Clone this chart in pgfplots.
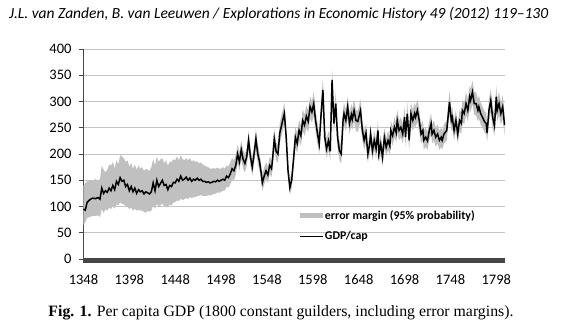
\documentclass[border=0pt]{standalone}
\usepackage{pgfplots}
\pgfplotsset{compat=1.18}
\usepackage{pgfplotstable}
\usepgfplotslibrary{fillbetween}
\usepackage{fontspec}
\setmainfont{Liberation Serif}
\newfontfamily\carlito{Carlito}
\definecolor{bandgray}{RGB}{192,192,192}
\definecolor{gridgray}{RGB}{195,195,195}
\definecolor{axisgray}{RGB}{70,70,70}

\pgfplotstableread{
year gdp lo hi
1348 95 65 140
1350 93 70 145
1352 108 78 148
1355 113 80 150
1358 116 82 150
1361 115 82 152
1364 117 83 150
1366 114 80 152
1368 135 95 178
1370 125 88 170
1372 130 95 165
1374 127 92 170
1376 135 98 180
1378 130 95 178
1380 140 100 185
1382 132 96 172
1384 148 104 188
1386 142 102 180
1388 155 108 198
1390 148 105 195
1392 150 104 192
1394 138 100 185
1396 142 100 188
1398 130 95 176
1400 138 98 182
1402 128 92 172
1404 135 96 180
1406 125 92 170
1408 132 94 178
1410 128 92 172
1412 130 92 175
1414 124 90 168
1416 128 88 172
1418 126 92 170
1420 124 90 168
1422 128 92 175
1424 145 102 190
1426 130 96 178
1428 150 105 195
1430 138 100 185
1432 144 102 190
1434 150 106 192
1436 140 100 182
1438 142 102 188
1440 132 98 178
1442 140 104 185
1444 138 102 185
1446 146 108 190
1448 145 108 188
1450 152 112 195
1452 148 110 188
1454 158 115 197
1456 150 112 190
1458 152 114 188
1460 156 116 192
1462 150 114 188
1464 154 118 192
1466 148 116 186
1468 152 118 188
1470 150 118 185
1472 154 120 186
1474 150 120 182
1476 152 122 184
1478 148 120 180
1480 148 120 178
1482 146 120 176
1484 147 122 175
1486 145 121 172
1488 146 122 172
1490 148 124 173
1492 147 124 172
1494 150 127 174
1496 148 126 172
1498 150 128 172
1500 152 130 175
1502 150 130 172
1504 158 138 178
1506 155 136 176
1508 162 142 184
1510 172 152 192
1512 168 150 188
1514 178 160 198
1516 200 182 218
1518 185 168 203
1520 208 190 226
1522 190 172 208
1524 182 165 200
1526 195 178 212
1528 226 208 244
1530 195 178 212
1532 175 158 192
1534 200 182 218
1536 229 210 248
1538 200 182 218
1540 185 168 202
1542 160 145 176
1543 145 130 162
1545 158 142 174
1547 168 152 185
1549 160 145 176
1551 178 162 195
1553 172 156 188
1554 187 170 204
1556 229 210 248
1558 205 188 222
1560 200 183 218
1562 240 220 260
1564 255 235 275
1566 270 250 290
1567 277 256 298
1569 232 212 252
1571 168 152 186
1573 136 122 152
1575 150 135 166
1577 190 172 208
1579 232 212 252
1581 220 202 240
1583 245 225 265
1585 235 215 255
1587 264 244 285
1589 255 235 275
1591 272 250 292
1593 262 242 282
1595 290 268 310
1597 280 260 300
1599 296 274 318
1601 264 244 285
1603 240 220 260
1605 219 200 238
1607 275 254 296
1609 322 300 345
1611 232 212 252
1613 210 192 228
1615 225 206 244
1617 205 188 222
1619 341 318 362
1621 258 238 278
1623 296 274 318
1625 232 212 252
1627 206 188 224
1629 200 182 218
1631 265 245 285
1632 277 256 298
1634 264 244 284
1636 290 268 310
1638 258 238 278
1640 275 254 296
1641 266 246 286
1643 283 262 304
1645 264 244 284
1647 262 242 282
1650 283 262 304
1652 245 226 264
1654 226 208 244
1656 240 220 258
1658 200 184 216
1660 219 200 236
1661 238 218 256
1663 206 188 222
1665 226 208 244
1667 210 192 226
1669 245 226 264
1670 200 184 218
1672 219 200 236
1674 194 176 210
1676 232 212 250
1678 213 196 230
1680 226 208 244
1682 215 198 232
1683 245 226 264
1685 235 216 252
1687 251 232 270
1689 240 222 258
1690 264 244 284
1692 245 226 264
1694 251 232 270
1696 238 220 256
1698 270 250 290
1699 232 214 250
1701 277 256 298
1703 226 208 244
1705 277 256 298
1707 264 244 284
1709 277 256 298
1710 270 250 290
1712 283 262 304
1714 264 244 284
1716 238 220 256
1718 245 226 264
1719 226 208 244
1721 232 214 250
1723 225 208 242
1725 245 226 264
1727 258 238 278
1728 238 220 256
1730 245 226 264
1732 232 214 250
1734 238 220 256
1736 226 208 244
1738 232 214 250
1739 226 208 244
1741 238 220 256
1744 245 226 264
1747 299 276 320
1749 264 244 284
1750 270 250 290
1752 245 226 264
1754 264 244 284
1756 238 220 256
1758 264 244 284
1760 258 238 278
1761 283 262 304
1763 277 256 298
1765 296 274 318
1767 283 262 304
1769 309 286 330
1770 302 280 324
1772 318 295 340
1774 296 274 318
1776 296 274 318
1778 283 262 304
1779 290 268 312
1781 277 256 298
1783 270 250 290
1785 262 242 282
1787 258 238 278
1788 240 222 258
1790 283 262 304
1792 302 280 324
1794 270 250 290
1796 254 234 274
1798 309 286 330
1799 283 262 304
1801 296 274 318
1803 277 256 298
1805 290 268 312
1807 255 236 274
}\gdpdata

\begin{document}
\begin{tikzpicture}
\node[anchor=west, inner sep=0] at (9bp,313bp)
  {\resizebox{539bp}{!}{\carlito\itshape J.L. van Zanden, B. van Leeuwen / Explorations in Economic History 49 (2012) 119–130}};
\node[inner sep=0] at (281bp,14bp)
  {\resizebox{465bp}{!}{\textbf{Fig. 1.} Per capita GDP (1800 constant guilders, including error margins).}};
\begin{axis}[
  at={(83bp,68bp)}, anchor=south west,
  scale only axis, width=422bp, height=210bp,
  xmin=1347.5, xmax=1807.5, ymin=0, ymax=400,
  axis lines*=left,
  axis line style={-, axisgray, line width=1bp},
  xtick={1348,1398,...,1798},
  minor xtick={1348,...,1807},
  ytick={0,50,...,400},
  tick align=outside,
  major tick length=4bp, minor tick length=4bp,
  xtick style={axisgray, line width=0.35bp},
  minor tick style={axisgray, line width=0.35bp},
  ytick style={axisgray, line width=0.9bp},
  ymajorgrids,
  major grid style={gridgray, line width=0.9bp},
  /pgf/number format/1000 sep={},
  /pgf/number format/assume math mode=true,
  ticklabel style={font=\carlito\fontsize{14.5bp}{16bp}\selectfont, text=black},
  yticklabel style={xshift=-4bp},
  xticklabel style={yshift=-8bp},
  legend style={draw=none, fill=none, at={(0.512,0.24)}, anchor=north west,
    font=\carlito\bfseries\fontsize{11.9bp}{13bp}\selectfont,
    row sep=8bp, inner sep=0pt, nodes={inner sep=1.5bp}},
  legend cell align=left,
]
\addplot[name path=hi, draw=none, forget plot] table[x=year, y=hi] {\gdpdata};
\addplot[name path=lo, draw=none, forget plot] table[x=year, y=lo] {\gdpdata};
\addplot[fill=bandgray, draw=none,
  legend image code/.code={\fill[bandgray] (0bp,-2.5bp) rectangle (23bp,2.5bp);}]
  fill between[of=hi and lo];
\addlegendentry{error margin (95\% probability)}
\addplot[black, line width=1.5bp, mark=none,
  legend image code/.code={\draw[black, line width=1.2bp] (0bp,0bp) -- (23bp,0bp);}]
  table[x=year, y=gdp] {\gdpdata};
\addlegendentry{GDP/cap}
\end{axis}
\path (0,0) rectangle (562bp,327bp);
\end{tikzpicture}
\end{document}
